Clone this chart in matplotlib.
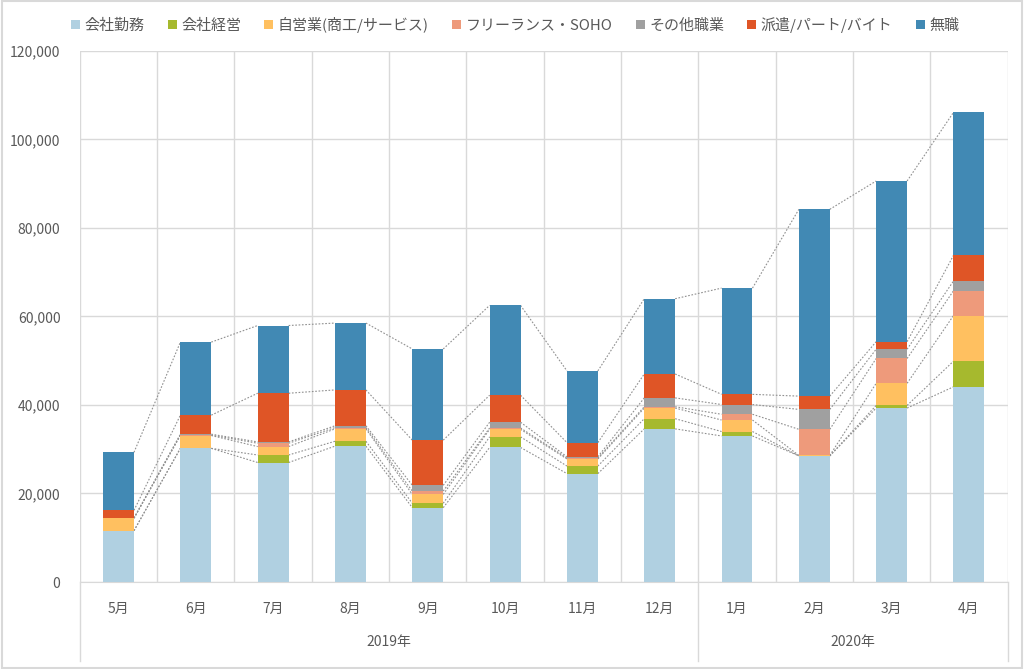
import matplotlib
matplotlib.use("Agg")
import matplotlib.pyplot as plt
import matplotlib.transforms as mtransforms
from matplotlib.patches import Rectangle
import numpy as np

plt.rcParams['font.family'] = ['Noto Sans CJK JP', 'DejaVu Sans']

months = ['5月', '6月', '7月', '8月', '9月', '10月', '11月', '12月', '1月', '2月', '3月', '4月']
years = ['2019年', '2020年']
year_spans = [(0, 8), (8, 12)]

series_names = ['会社勤務', '会社経営', '自営業(商工/サービス)', 'フリーランス・SOHO',
                'その他職業', '派遣/パート/バイト', '無職']
kaisha_kinmu = [11600, 30200, 27000, 30700, 16800, 30400, 24500, 34600, 33000, 28500, 39300, 44100]
kaisha_keiei = [0, 0, 1700, 1100, 1000, 2400, 1700, 2300, 1000, 0, 600, 5800]
jieigyo = [2800, 2900, 1900, 2800, 2000, 1700, 1600, 2400, 2600, 100, 5000, 10300]
freelance = [0, 100, 750, 300, 750, 300, 200, 300, 1300, 5900, 5600, 5600]
sonota = [100, 200, 300, 400, 1300, 1300, 300, 2000, 2200, 4500, 2100, 2200]
haken = [1700, 4300, 11000, 8100, 10200, 6100, 3200, 5400, 2300, 3000, 1700, 5800]
mushoku = [13100, 16500, 15300, 15100, 20600, 20300, 16200, 17000, 24000, 42200, 36300, 32300]

colors = ['#B0D0E1', '#A6B92E', '#FFC060', '#EE9A7B', '#A0A0A0', '#DF5526', '#4189B4']
text_color = '#595959'
grid_color = '#D9D9D9'

data = [kaisha_kinmu, kaisha_keiei, jieigyo, freelance, sonota, haken, mushoku]

fig = plt.figure(figsize=(10.24, 6.69), dpi=100)
ax = fig.add_axes([0.078, 0.130, 0.906, 0.794])

x = np.arange(len(months))
w = 0.4
bottom = np.zeros(len(months))
tops = []
for vals, name, c in zip(data, series_names, colors):
    vals = np.array(vals, dtype=float)
    ax.bar(x, vals, w, bottom=bottom, color=c, label=name, zorder=3)
    bottom = bottom + vals
    tops.append(bottom.copy())

# series lines between bars
for t in tops:
    for i in range(len(months) - 1):
        ax.plot([x[i] + w / 2, x[i + 1] - w / 2], [t[i], t[i + 1]],
                color='#909090', lw=0.8, ls=(0, (1.5, 1.5)), zorder=2)

ax.set_xlim(-0.5, len(months) - 0.5)
ax.set_ylim(0, 120000)
ax.set_yticks(np.arange(0, 120001, 20000))
ax.set_yticklabels([f'{v:,}' for v in range(0, 120001, 20000)])
ax.set_xticks(x)
ax.set_xticklabels(months)
ax.set_xticks(np.arange(-0.5, len(months), 1), minor=True)
ax.tick_params(axis='both', which='both', length=0, colors=text_color, labelsize=10)
ax.tick_params(axis='x', pad=14)
ax.tick_params(axis='y', pad=14)
ax.grid(axis='y', which='major', color=grid_color, lw=1, zorder=0)
ax.grid(axis='x', which='minor', color=grid_color, lw=1, zorder=0)
for s in ['top', 'right', 'left']:
    ax.spines[s].set_visible(False)
ax.spines['bottom'].set_color(grid_color)

# second level: years
trans = mtransforms.blended_transform_factory(ax.transData, ax.transAxes)
for yr, (a, b) in zip(years, year_spans):
    ax.text((a + b - 1) / 2, -0.112, yr, transform=trans, ha='center', va='center',
            color=text_color, fontsize=10)
for edge in [-0.5, 7.5, 11.5]:
    ax.plot([edge, edge], [0, -0.148], transform=trans, color=grid_color, lw=1, clip_on=False)

leg = fig.legend(loc='upper center', bbox_to_anchor=(0.503, 0.995), ncol=7, frameon=False,
                 handlelength=0.6, handleheight=0.6, handletextpad=0.3, columnspacing=1.55,
                 fontsize=10.8)
for t in leg.get_texts():
    t.set_color(text_color)

fig.patches.append(Rectangle((0.002, 0.002), 0.996, 0.996, transform=fig.transFigure,
                             fill=False, edgecolor=grid_color, lw=1.5))

fig.savefig('out.png', dpi=100)
